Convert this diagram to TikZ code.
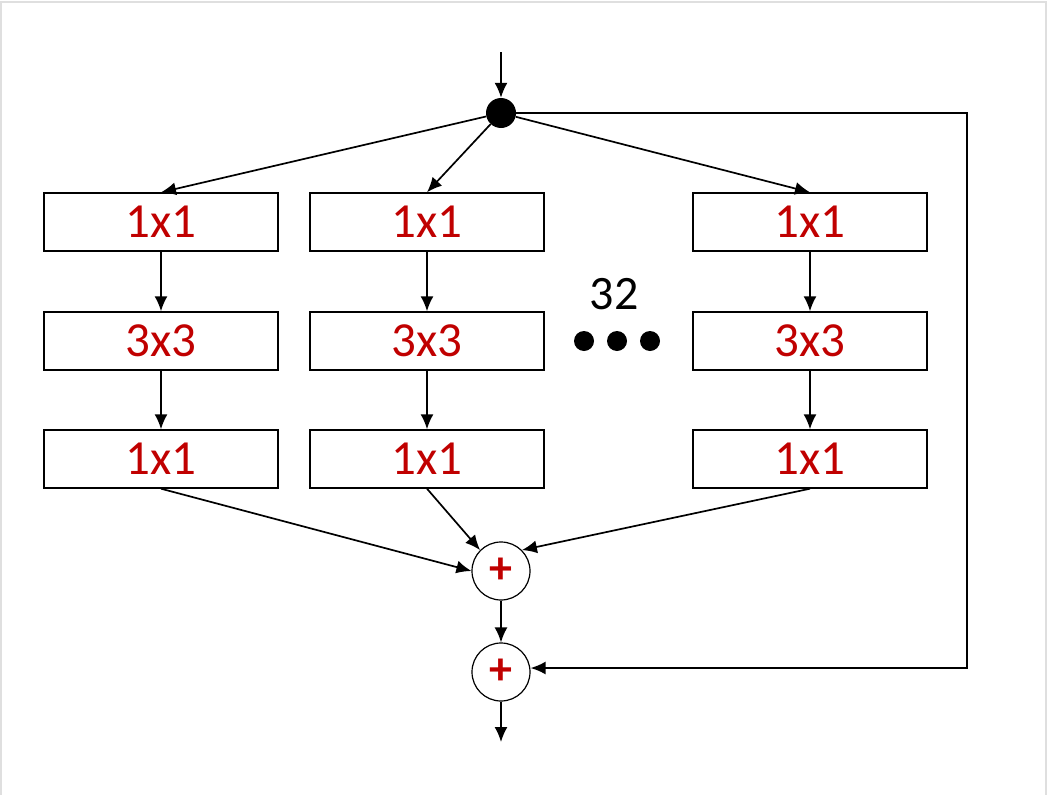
\documentclass[tikz,border=0pt]{standalone}
\usepackage{fontspec}
\setmainfont{Carlito}
\usetikzlibrary{positioning,arrows.meta}
\definecolor{convred}{RGB}{192,0,0}

\begin{document}
\begin{tikzpicture}[x=1pt,y=-1pt,
  conv/.style={draw,line width=1.4pt,minimum width=234pt,minimum height=58pt,inner sep=0pt,text=convred,font=\fontsize{49}{49}\selectfont},
  sumnode/.style={draw,circle,line width=1.2pt,minimum size=58pt,inner sep=0pt,text=convred,font=\fontsize{46}{46}\selectfont\bfseries},
  flow/.style={line width=1.7pt,-{Latex[length=15pt,width=13pt]}}]
\useasboundingbox (0,0) rectangle (1047,795);
\draw[gray!25,line width=1.5pt] (1,2) rectangle (1046,800);
% split point and input
\fill (501,113) circle (15) coordinate (split);
\node[circle,minimum size=30pt,inner sep=0pt] (splitn) at (501,113) {};
\coordinate (in) at (501,52);
\draw[flow] (in) -- (splitn.north);
% three visible paths of the 32
\node[conv] (a1) at (161,222) {1x1};
\node[conv] (a2) at (161,341) {3x3};
\node[conv] (a3) at (161,459) {1x1};
\node[conv] (b1) at (427,222) {1x1};
\node[conv] (b2) at (427,341) {3x3};
\node[conv] (b3) at (427,459) {1x1};
\node[conv] (c1) at (810,222) {1x1};
\node[conv] (c2) at (810,341) {3x3};
\node[conv] (c3) at (810,459) {1x1};
\foreach \p in {a,b,c} {
  \draw[flow] (\p1) -- (\p2);
  \draw[flow] (\p2) -- (\p3);
}
\draw[flow] (splitn) -- (a1.north);
\draw[flow] (splitn) -- (b1.north);
\draw[flow] (splitn) -- (c1.north);
% cardinality
\node[font=\fontsize{48}{48}\selectfont] (card) at (614,294) {32};
\foreach \xx in {584,617,650} {\fill (\xx,341) circle (10);}
% aggregation and shortcut
\node[sumnode] (sum) at (501,571) {+};
\node[sumnode] (res) at (501,672) {+};
\draw[flow] (a3.south) -- (sum.west);
\draw[flow] (b3.south) -- (sum.north west);
\draw[flow] (c3.south) -- (sum.north east);
\draw[flow] (sum) -- (res);
\coordinate (out) at (501,742);
\draw[flow] (res) -- (out);
\draw[flow] (splitn.east) -- (967,113) -- (967,668) -- (res.east |- 0,668);
\end{tikzpicture}
\end{document}
